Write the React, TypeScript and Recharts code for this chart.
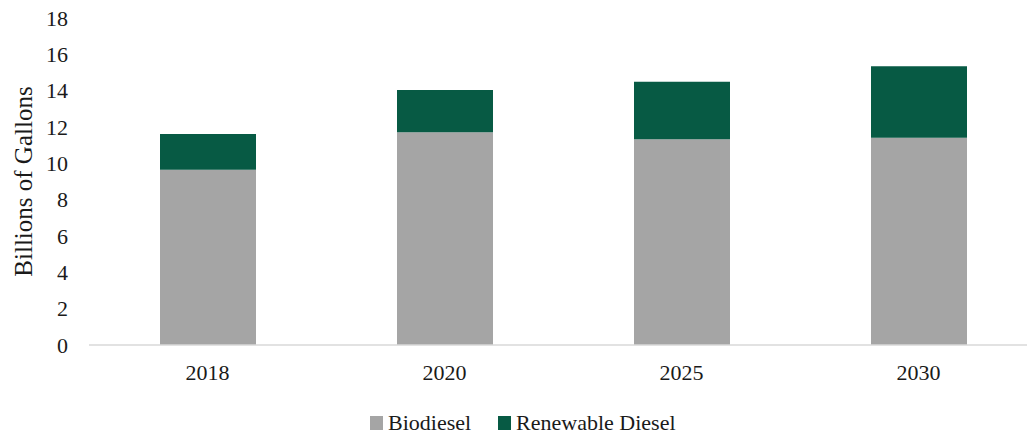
import React from "react";
import { BarChart, Bar, XAxis, YAxis, Legend } from "recharts";

const years = ["2018", "2020", "2025", "2030"];
const biodiesel = [9.65, 11.71, 11.32, 11.41];
const renewableDiesel = [1.96, 2.32, 3.17, 3.94];
const yTicks = [0, 2, 4, 6, 8, 10, 12, 14, 16, 18];

const data = years.map((year, i) => ({
  year,
  biodiesel: biodiesel[i],
  renewable: renewableDiesel[i],
}));

const FONT = "'Liberation Serif', 'DejaVu Serif', serif";

const LegendContent = (props: any) => {
  const payload = props.payload || [];
  return (
    <div
      style={{
        height: 22,
        display: "flex",
        alignItems: "center",
        paddingLeft: 370,
        fontFamily: FONT,
        fontSize: 22,
        color: "#1a1a1a",
        boxSizing: "border-box",
      }}
    >
      {payload.map((p: any, i: number) => (
        <div key={i} style={{ display: "flex", alignItems: "center", marginRight: 27, height: 22 }}>
          <span
            style={{
              display: "inline-block",
              width: 13,
              height: 14,
              background: p.color,
              marginRight: 5,
            }}
          />
          <span style={{ lineHeight: "22px", fontFamily: FONT }}>{p.value}</span>
        </div>
      ))}
    </div>
  );
};

export default function App() {
  return (
    <div
      style={{
        position: "absolute",
        top: 0,
        left: 0,
        width: 1027,
        height: 434,
        overflow: "hidden",
        background: "#fff",
      }}
    >
      <BarChart
        width={1045}
        height={434}
        data={data}
        margin={{ top: 18, right: 8, bottom: 0, left: 0 }}
      >
        <XAxis
          dataKey="year"
          height={67}
          tickSize={0}
          tickMargin={19}
          axisLine={{ stroke: "#D9D9D9", strokeWidth: 1.5 }}
          tick={{ fill: "#1a1a1a", fontSize: 22, fontFamily: FONT }}
        />
        <YAxis
          width={89}
          domain={[0, 18]}
          ticks={yTicks}
          interval={0}
          axisLine={false}
          tickSize={0}
          tickMargin={21}
          tick={{ fill: "#1a1a1a", fontSize: 22, fontFamily: FONT }}
          label={{
            value: "Billions of Gallons",
            angle: -90,
            position: "center",
            dx: -21,
            style: { fill: "#1a1a1a", fontSize: 25, fontFamily: FONT, textAnchor: "middle" },
          }}
        />
        <Legend
          verticalAlign="bottom"
          content={<LegendContent />}
          wrapperStyle={{ top: 412, left: 0, bottom: "auto", height: 22 }}
        />
        <Bar
          dataKey="biodiesel"
          name="Biodiesel"
          stackId="a"
          fill="#A5A5A5"
          barSize={96}
          isAnimationActive={false}
        />
        <Bar
          dataKey="renewable"
          name="Renewable Diesel"
          stackId="a"
          fill="#075A44"
          barSize={96}
          isAnimationActive={false}
        />
      </BarChart>
    </div>
  );
}
